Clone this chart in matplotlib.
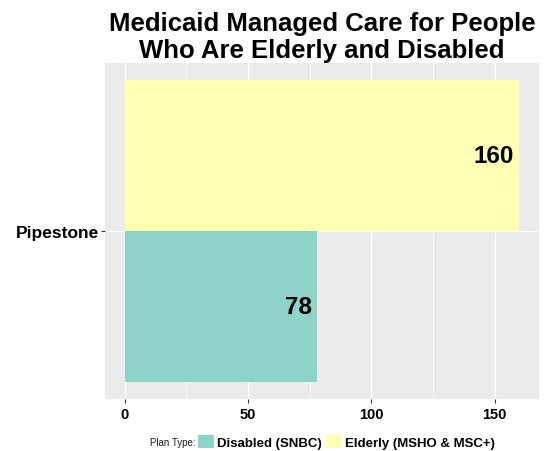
import matplotlib
matplotlib.use("Agg")
import matplotlib.pyplot as plt
from matplotlib.patches import Patch

plt.rcParams['font.family'] = ['Liberation Sans', 'DejaVu Sans']

county = 'Pipestone'
plan_types = ['Disabled (SNBC)', 'Elderly (MSHO & MSC+)']
enrollees = [78, 160]
colors = ['#8DD3C7', '#FFFFB3']
offsets = [-0.25, 0.25]

fig = plt.figure(figsize=(5.44, 4.52), dpi=100)
ax = fig.add_axes([105 / 544, 1 - 400 / 452, 434 / 544, 336 / 452])
ax.set_facecolor('#EBEBEB')

# grid like ggplot
for v in [25, 75, 125]:
    ax.axvline(v, color='white', lw=0.5, zorder=0)
for v in [0, 50, 100, 150]:
    ax.axvline(v, color='white', lw=1.0, zorder=0)
ax.axhline(0, color='white', lw=1.0, zorder=0)

for name, val, col, off in zip(plan_types, enrollees, colors, offsets):
    ax.barh(off, val, height=0.5, color=col, zorder=2)
    ax.text(val - 2, off, str(val), ha='right', va='center',
            fontsize=17.5, fontweight='bold', zorder=3)

ax.set_xlim(-8, 168)
ax.set_ylim(-0.5545, 0.5545)
ax.set_xticks([0, 50, 100, 150])
ax.set_xticklabels(['0', '50', '100', '150'], fontsize=10.5, fontweight='bold')
ax.set_yticks([0])
ax.set_yticklabels([county], fontsize=12.5, fontweight='bold')
ax.tick_params(axis='both', length=3, width=0.8, color='#333333')
ax.tick_params(axis='y', pad=1)
ax.tick_params(axis='x', pad=3)
for s in ax.spines.values():
    s.set_visible(False)

ax.set_title('Medicaid Managed Care for People\nWho Are Elderly and Disabled',
             fontsize=18.5, fontweight='bold', pad=4, linespacing=1.2)

fig.text(150 / 544, 1 - 443 / 452, 'Plan Type:', fontsize=7, va='center', ha='left',
         color='#1A1A1A')
handles = [Patch(facecolor=c, edgecolor='none') for c in colors]
leg = fig.legend(handles, plan_types, loc='center left',
                 bbox_to_anchor=(198 / 544, 1 - 443 / 452), ncol=2, frameon=False,
                 prop={'size': 9.5, 'weight': 'bold'}, handlelength=1.2,
                 handleheight=1.2, handletextpad=0.25, columnspacing=0.3,
                 borderpad=0, borderaxespad=0)

fig.savefig('out.png', dpi=100)
